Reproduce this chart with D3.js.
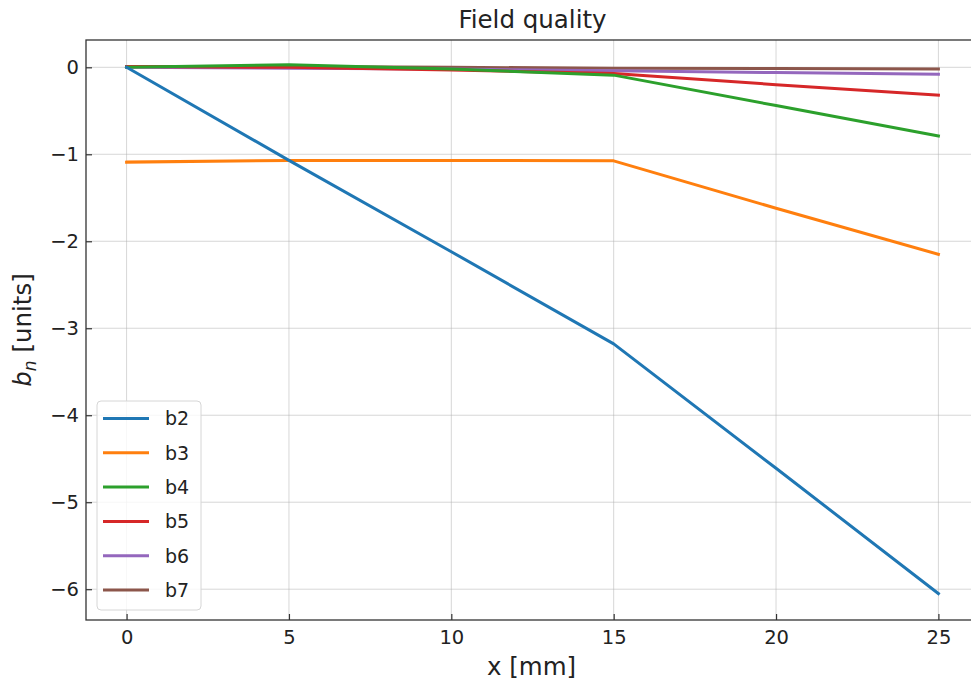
<!DOCTYPE html>
<html>
<head>
<meta charset="utf-8">
<script src="https://cdn.jsdelivr.net/npm/d3@7"></script>
<style>
  body { margin: 0; background: #fff; }
  svg { font-family: "DejaVu Sans", sans-serif; }
</style>
</head>
<body>
<svg id="drawing_region"></svg>
<script>
// positions along the magnet, mm
const xs = [0, 5, 10, 15, 20, 25];
const seriesNames = ['b2', 'b3', 'b4', 'b5', 'b6', 'b7'];
const b2 = [0.0, -1.07, -2.12, -3.18, -4.61, -6.05];
const b3 = [-1.09, -1.07, -1.07, -1.075, -1.62, -2.15];
const b4 = [0.0, 0.03, -0.02, -0.09, -0.44, -0.79];
const b5 = [0.01, 0.0, -0.03, -0.07, -0.20, -0.32];
const b6 = [0.0, -0.01, -0.02, -0.04, -0.06, -0.08];
const b7 = [0.01, 0.01, 0.0, -0.01, -0.015, -0.02];
const colors = ['#1f77b4', '#ff7f0e', '#2ca02c', '#d62728', '#9467bd', '#8c564b'];
const xTicks = [0, 5, 10, 15, 20, 25];
const yTicks = [0, -1, -2, -3, -4, -5, -6];

const series = [b2, b3, b4, b5, b6, b7];

const config = {
    width: 971,
    height: 683,
    margin: {top: 40, right: -8, bottom: 63, left: 86},
};

const svg = d3.select('#drawing_region')
    .attr('width', config.width)
    .attr('height', config.height);

const x = d3.scaleLinear()
    .domain([-1.25, 26.25])
    .range([config.margin.left, config.width - config.margin.right]);
const y = d3.scaleLinear()
    .domain([-6.354, 0.314])
    .range([config.height - config.margin.bottom, config.margin.top]);

const fmt = d => d3.format('d')(d).replace('-', '\u2212');

// grid
const grid = svg.append('g');
grid.selectAll('.gx').data(xTicks).enter().append('line')
    .attr('x1', d => x(d)).attr('x2', d => x(d))
    .attr('y1', y.range()[1]).attr('y2', y.range()[0])
    .attr('stroke', '#b0b0b0').attr('stroke-opacity', 0.5).attr('stroke-width', 1);
grid.selectAll('.gy').data(yTicks).enter().append('line')
    .attr('y1', d => y(d)).attr('y2', d => y(d))
    .attr('x1', x.range()[0]).attr('x2', x.range()[1])
    .attr('stroke', '#b0b0b0').attr('stroke-opacity', 0.5).attr('stroke-width', 1);

// lines
const line = d3.line()
    .x((d, i) => x(xs[i]))
    .y(d => y(d));

svg.append('g').selectAll('path')
    .data(series.map((s, i) => ({name: seriesNames[i], values: s, color: colors[i]})).reverse())
    .enter()
    .append('path')
    .attr('d', d => line(d.values))
    .attr('fill', 'none')
    .attr('stroke', d => d.color)
    .attr('stroke-width', 3)
    .attr('stroke-linejoin', 'round')
    .attr('stroke-linecap', 'square');

// axes (ticks pointing inward)
const xAxis = svg.append('g')
    .attr('transform', `translate(0, ${y.range()[0]})`)
    .call(d3.axisBottom(x).tickValues(xTicks).tickFormat(fmt).tickSizeInner(-6).tickSizeOuter(0).tickPadding(10));
const yAxis = svg.append('g')
    .attr('transform', `translate(${x.range()[0]}, 0)`)
    .call(d3.axisLeft(y).tickValues(yTicks).tickFormat(fmt).tickSizeInner(-6).tickSizeOuter(0).tickPadding(7));

[xAxis, yAxis].forEach(a => {
    a.select('.domain').remove();
    a.selectAll('.tick line').attr('stroke', '#333').attr('stroke-width', 1.2);
    a.selectAll('.tick text').attr('fill', '#222').style('font-size', '19.5px')
        .style('font-family', '"DejaVu Sans", sans-serif');
});

// frame
svg.append('rect')
    .attr('x', x.range()[0]).attr('y', y.range()[1])
    .attr('width', x.range()[1] - x.range()[0])
    .attr('height', y.range()[0] - y.range()[1])
    .attr('fill', 'none').attr('stroke', '#333').attr('stroke-width', 1.3);

// title and labels
const midX = (x.range()[0] + x.range()[1]) / 2;
svg.append('text')
    .attr('x', midX).attr('y', 28)
    .attr('text-anchor', 'middle')
    .style('font-size', '24.5px').attr('fill', '#222')
    .text('Field quality');

svg.append('text')
    .attr('x', midX - 1).attr('y', 675)
    .attr('text-anchor', 'middle')
    .style('font-size', '24.5px').attr('fill', '#222')
    .text('x [mm]');

const yl = svg.append('text')
    .attr('transform', `translate(31, ${(y.range()[0] + y.range()[1]) / 2}) rotate(-90)`)
    .attr('text-anchor', 'middle')
    .style('font-size', '24.5px').attr('fill', '#222');
yl.append('tspan').style('font-style', 'italic').text('b');
yl.append('tspan').style('font-style', 'italic').style('font-size', '17px').attr('dy', 5).text('n');
yl.append('tspan').attr('dy', -5).text(' [units]');

// legend
const lg = svg.append('g').attr('transform', 'translate(97, 401)');
lg.append('rect')
    .attr('width', 104).attr('height', 209).attr('rx', 4)
    .attr('fill', 'white').attr('fill-opacity', 0.8)
    .attr('stroke', '#d6d6d6');
const items = lg.selectAll('.item')
    .data(seriesNames)
    .enter().append('g')
    .attr('transform', (d, i) => `translate(0, ${17.5 + i * 34.3})`);
items.append('line')
    .attr('x1', 6).attr('x2', 52)
    .attr('stroke', (d, i) => colors[i]).attr('stroke-width', 3);
items.append('text')
    .attr('x', 68).attr('dy', '0.36em')
    .style('font-size', '19px').attr('fill', '#222')
    .text(d => d);
</script>
</body>
</html>
